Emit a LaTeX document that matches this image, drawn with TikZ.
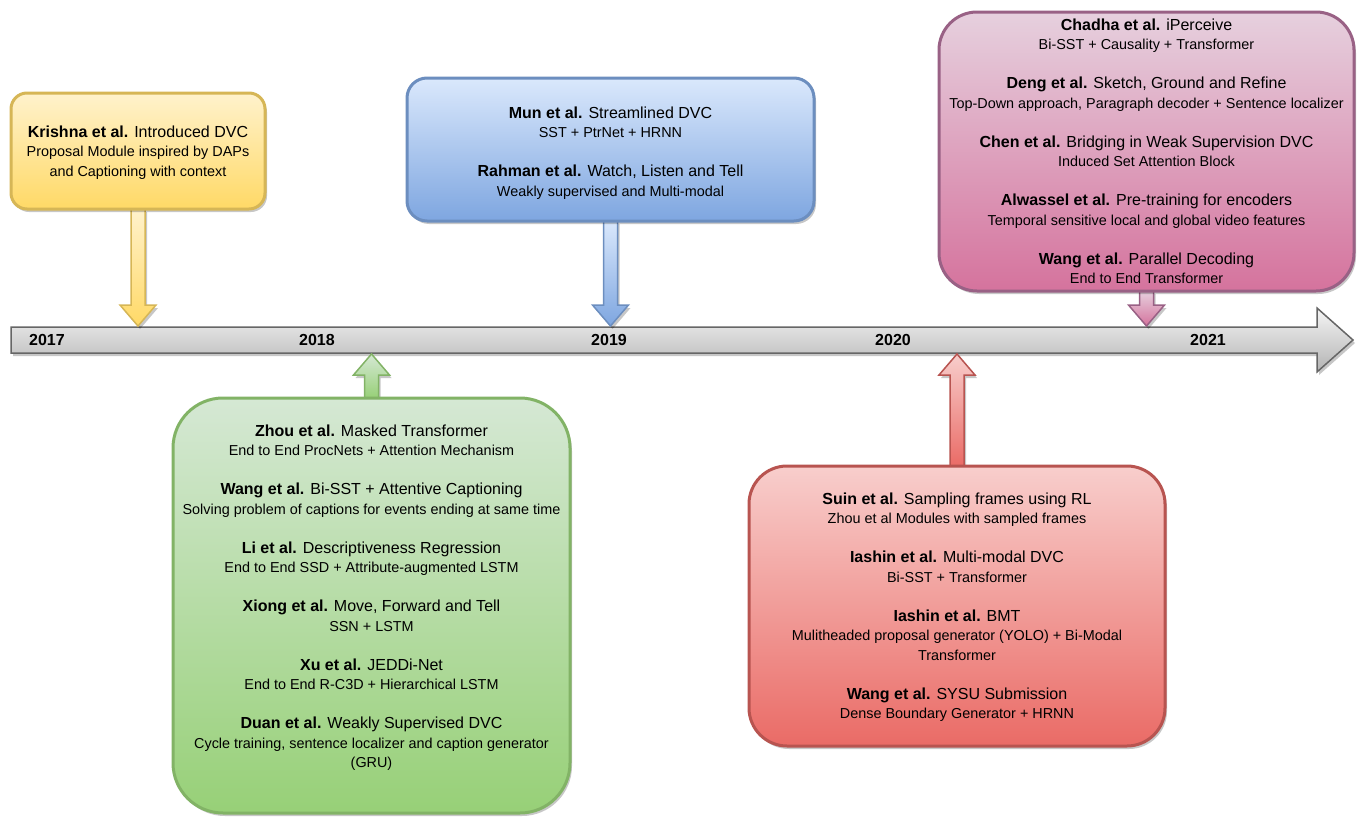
\documentclass[tikz,border=0pt]{standalone}
\usepackage{fontspec}
\setmainfont{Liberation Sans}
\usetikzlibrary{calc,shadows,backgrounds}
\definecolor{yS}{HTML}{D6B656}\definecolor{yT}{HTML}{FFF2CC}\definecolor{yB}{HTML}{FFD966}
\definecolor{bS}{HTML}{6C8EBF}\definecolor{bT}{HTML}{DAE8FC}\definecolor{bB}{HTML}{7EA6E0}
\definecolor{gS}{HTML}{82B366}\definecolor{gT}{HTML}{D5E8D4}\definecolor{gB}{HTML}{97D077}
\definecolor{rS}{HTML}{B85450}\definecolor{rT}{HTML}{F8CECC}\definecolor{rB}{HTML}{EA6B66}
\definecolor{pS}{HTML}{996185}\definecolor{pT}{HTML}{E6D0DE}\definecolor{pB}{HTML}{D5739D}
\definecolor{tS}{HTML}{666666}\definecolor{tT}{HTML}{F5F5F5}\definecolor{tB}{HTML}{B3B3B3}
\newcommand{\hd}[2]{\rule{0pt}{12pt}\textbf{#1} #2}
\newcommand{\subln}[1]{{\fontsize{14.4}{19.5}\selectfont #1}}
\newcommand{\blockarr}[4]{%
  \path[#3] ($(#1)+(-7,0)$) -- ($(#2)+(-7,#4)$) -- ($(#2)+(-18,#4)$) -- (#2)
    -- ($(#2)+(18,#4)$) -- ($(#2)+(7,#4)$) -- ($(#1)+(7,0)$) -- cycle;}
\tikzset{
  shad/.style={drop shadow={shadow xshift=2pt, shadow yshift=-3pt, opacity=0.22, fill=black}},
  box/.style={draw=#1S, top color=#1T, bottom color=#1B, line width=3pt, outer sep=0pt, inner sep=0pt, rectangle, shad},
  barr/.style={draw=#1S, top color=#1T, bottom color=#1B, line width=1.5pt, line join=miter, shad},
  txt/.style={align=center, inner sep=0pt, anchor=north, text=black, font=\fontsize{16}{19.5}\selectfont},
  year/.style={font=\fontsize{16}{19}\selectfont\bfseries, inner sep=0pt, text=black},
}
\begin{document}
\begin{tikzpicture}[x=1pt, y=-1pt]
\useasboundingbox (0,0) rectangle (1366,827);
% boxes
\node[box=y, rounded corners=16pt, minimum width=254pt, minimum height=116pt] (yb) at (138,151) {};
\node[box=b, rounded corners=20pt, minimum width=407pt, minimum height=143pt] (bb) at (610.5,149.5) {};
\node[box=p, rounded corners=38pt, minimum width=415pt, minimum height=279pt] (pb) at (1146.5,151.5) {};
\node[box=g, rounded corners=50pt, minimum width=397pt, minimum height=415pt] (gb) at (371.5,605.5) {};
\node[box=r, rounded corners=38pt, minimum width=416pt, minimum height=280pt] (rb) at (957,606) {};
% texts
\node[txt] (ybt) at (138,125) {\hd{Krishna et al.}{Introduced DVC}\\
  \subln{Proposal Module inspired by DAPs}\\ \subln{and Captioning with context}};
\node[txt] (bbt) at (610.5,106) {\hd{Mun et al.}{Streamlined DVC}\\
  \subln{SST + PtrNet + HRNN}\\[19.5pt]
  \textbf{Rahman et al.} Watch, Listen and Tell\\ \subln{Weakly supervised and Multi-modal}};
\node[txt] (pbt) at (1146.5,18) {\hd{Chadha et al.}{iPerceive}\\
  \subln{Bi-SST + Causality + Transformer}\\[19.5pt]
  \textbf{Deng et al.} Sketch, Ground and Refine\\
  \subln{Top-Down approach, Paragraph decoder + Sentence localizer}\\[19.5pt]
  \textbf{Chen et al.} Bridging in Weak Supervision DVC\\
  \subln{Induced Set Attention Block}\\[19.5pt]
  \textbf{Alwassel et al.} Pre-training for encoders\\
  \subln{Temporal sensitive local and global video features}\\[19.5pt]
  \textbf{Wang et al.} Parallel Decoding\\ \subln{End to End Transformer}};
\node[txt] (gbt) at (371.5,424) {\hd{Zhou et al.}{Masked Transformer}\\
  \subln{End to End ProcNets + Attention Mechanism}\\[19.5pt]
  \textbf{Wang et al.} Bi-SST + Attentive Captioning\\
  \subln{Solving problem of captions for events ending at same time}\\[19.5pt]
  \textbf{Li et al.} Descriptiveness Regression\\
  \subln{End to End SSD + Attribute-augmented LSTM}\\[19.5pt]
  \textbf{Xiong et al.} Move, Forward and Tell\\ \subln{SSN + LSTM}\\[19.5pt]
  \textbf{Xu et al.} JEDDi-Net\\ \subln{End to End R-C3D + Hierarchical LSTM}\\[19.5pt]
  \textbf{Duan et al.} Weakly Supervised DVC\\
  \subln{Cycle training, sentence localizer and caption generator}\\ \subln{(GRU)}};
\node[txt] (rbt) at (957,492) {\hd{Suin et al.}{Sampling frames using RL}\\
  \subln{Zhou et al Modules with sampled frames}\\[19.5pt]
  \textbf{Iashin et al.} Multi-modal DVC\\ \subln{Bi-SST + Transformer}\\[19.5pt]
  \textbf{Iashin et al.} BMT\\
  \subln{Mulitheaded proposal generator (YOLO) + Bi-Modal}\\ \subln{Transformer}\\[19.5pt]
  \textbf{Wang et al.} SYSU Submission\\ \subln{Dense Boundary Generator + HRNN}};
% timeline and arrows
\coordinate (tlTop) at (0,326);
\coordinate (tlBot) at (0,354);
\begin{scope}[on background layer]
\path[draw=tS, top color=tT, bottom color=tB, line width=1.5pt, shad]
  (11,327) -- (1317,327) -- (1317,308) -- (1353,340) -- (1317,372) -- (1317,353) -- (11,353) -- cycle;
\coordinate (yTip) at (yb.south |- tlTop);
\coordinate (bTip) at (bb.south |- tlTop);
\coordinate (pTip) at (pb.south |- tlTop);
\coordinate (gTip) at (gb.north |- tlBot);
\coordinate (rTip) at (rb.north |- tlBot);
\blockarr{yb.south}{yTip}{barr=y}{-21}
\blockarr{bb.south}{bTip}{barr=b}{-21}
\blockarr{pb.south}{pTip}{barr=p}{-21}
\blockarr{gb.north}{gTip}{barr=g}{21}
\blockarr{rb.north}{rTip}{barr=r}{21}
\end{scope}
\node[year] (y17) at (47,340) {2017};
\node[year] (y18) at (317,340) {2018};
\node[year] (y19) at (609,340) {2019};
\node[year] (y20) at (893,340) {2020};
\node[year] (y21) at (1208,340) {2021};
\end{tikzpicture}
\end{document}
